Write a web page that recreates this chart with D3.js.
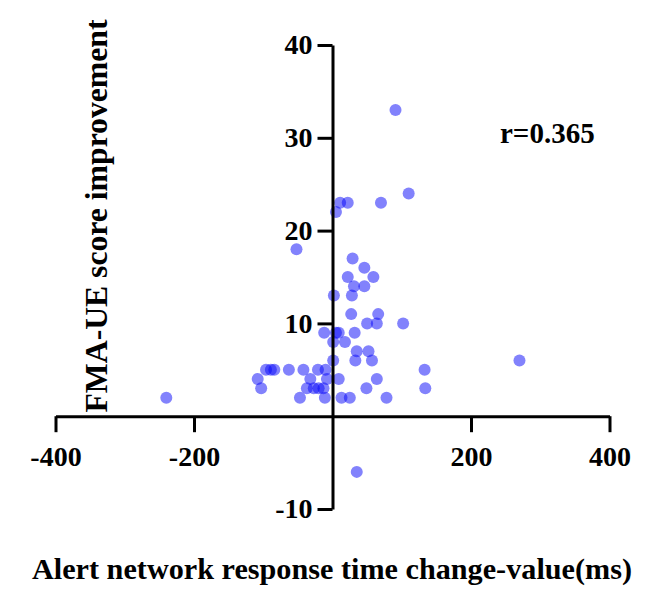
<!DOCTYPE html>
<html>
<head>
<meta charset="utf-8">
<script src="https://cdn.jsdelivr.net/npm/d3@7"></script>
<style>
  body { margin: 0; background: #fff; }
  text { font-family: "Liberation Serif", "Times New Roman", serif; font-weight: bold; }
</style>
</head>
<body>
<div class="chart"></div>
<script>
var width = 649,
    height = 590;

// alert network response time change (ms)
var xVals = [91, 11, 22, 70, 110, 5, -52, 29, 46, 22, 59, 31, 46, 2, 28, 27, 66, 50, 64, 102,
             -12, 5, 9, 32, 1, 18, 35, 52, 1, 33, 57, 133, 270,
             -96, -89, -84, -63, -42, -21, -10,
             -108, -32, -8, 9, 64,
             -103, -37, -27, -20, -13, 49, 134,
             -240, -47, -11, 13, 25, 78, 35];
// FMA-UE score improvement
var yVals = [33, 23, 23, 23, 24, 22, 18, 17, 16, 15, 15, 14, 14, 13, 13, 11, 11, 10, 10, 10,
             9, 9, 9, 9, 8, 8, 7, 7, 6, 6, 6, 5, 6,
             5, 5, 5, 5, 5, 5, 5,
             4, 4, 4, 4, 4,
             3, 3, 3, 3, 3, 3, 3,
             2, 2, 2, 2, 2, 2, -6];

var xTicks = [-400, -200, 200, 400];
var yTicks = [-10, 10, 20, 30, 40];

var x = d3.scaleLinear().domain([-400, 400]).range([55.5, 609.5]);
var y = d3.scaleLinear().domain([-10, 40]).range([509, 45]);

// plain hyphen for negatives, like the original
var fmt = function(d) { return d < 0 ? "-" + Math.abs(d) : "" + d; };

var svg = d3.select(".chart").append("svg")
    .attr("width", width)
    .attr("height", height);

// points first, axes drawn over
svg.append("g").selectAll("circle")
    .data(xVals)
    .enter().append("circle")
    .attr("cx", function(d) { return x(d); })
    .attr("cy", function(d, i) { return y(yVals[i]); })
    .attr("r", 6)
    .style("fill", "rgb(5,5,250)")
    .style("fill-opacity", 0.5);

var xAxis = svg.append("g")
    .attr("transform", "translate(0," + y(0) + ")")
    .call(d3.axisBottom(x).tickValues(xTicks).tickFormat(fmt).tickSize(16).tickSizeOuter(0).tickPadding(14));

var yAxis = svg.append("g")
    .attr("transform", "translate(" + x(0) + ",0)")
    .call(d3.axisLeft(y).tickValues(yTicks).tickFormat(fmt).tickSize(15).tickSizeOuter(0).tickPadding(5));

[xAxis, yAxis].forEach(function(a) {
  a.select(".domain").attr("stroke", "#000").attr("stroke-width", 3);
  a.selectAll(".tick line").attr("stroke", "#000").attr("stroke-width", 3);
  a.selectAll(".tick text")
    .attr("fill", "#000")
    .style("font-size", "28px")
    .style("font-family", "'Liberation Serif', serif")
    .style("font-weight", "bold");
});

svg.append("text")
    .attr("x", 500)
    .attr("y", 143)
    .style("font-size", "29px")
    .text("r=0.365");

svg.append("text")
    .attr("transform", "translate(107,216) rotate(-90)")
    .attr("text-anchor", "middle")
    .attr("textLength", 393)
    .attr("lengthAdjust", "spacingAndGlyphs")
    .style("font-size", "31px")
    .text("FMA-UE score improvement");

svg.append("text")
    .attr("x", 332)
    .attr("y", 579)
    .attr("text-anchor", "middle")
    .attr("textLength", 600)
    .attr("lengthAdjust", "spacingAndGlyphs")
    .style("font-size", "29px")
    .text("Alert network response time change-value(ms)");
</script>
</body>
</html>
